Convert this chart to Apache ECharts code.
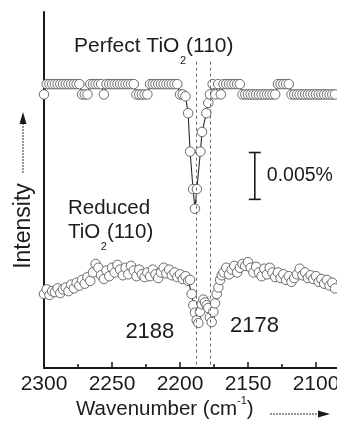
<!DOCTYPE html>
<html><head><meta charset="utf-8">
<script src="https://cdn.jsdelivr.net/npm/echarts@6/dist/echarts.min.js"></script>
<style>html,body{margin:0;padding:0;background:#fff;}#c{width:337px;height:426px;}</style>
</head><body><div id="c"></div>
<script>
// ---------------- data ----------------
const xTickLabels = [2300, 2250, 2200, 2150, 2100];
const peakPositions = [2188, 2178];

const perfectWavenumber = [
  2300,2298,2296,2294,2292,2290,2288,2286,2284,2282,2280,2278,2276,2274,2272,2270,2268,2266,2264,2262,
  2260,2258,2256,2254,2252,2250,2248,2246,2244,2242,2240,2238,2236,2234,2232,2230,2228,2226,2224,2222,
  2220,2218,2216,2214,2212,2210,2208,2206,2204,2202,2200,2198,2196,
  2194,2192.6,2190.4,2189,2187.6,2185,2183.8,2180.6,2179.2,
  2178,2176,2174,2172,2170,2168,2166,2164,2162,2160,2158,2156,2154,2152,2150,2148,2146,2144,2142,2140,
  2138,2136,2134,2132,2130,2128,2126,2124,2122,2120,2118,2116,2114,2112,2110,2108,2106,2104,2102,2100,
  2098,2096,2094,2092,2090,2088,2086
];
const perfectIntensity = [
  29.2,30.3,30.3,30.3,30.3,30.3,30.3,30.3,30.3,30.3,30.3,30.3,30.3,30.3,29.2,29.2,29.2,30.3,30.3,30.3,
  30.3,30.3,29.2,30.3,30.3,30.3,30.3,30.3,30.3,30.3,30.3,30.3,30.3,30.3,29.2,29.2,29.2,29.2,29.2,30.3,
  30.3,30.3,30.3,30.3,30.3,30.3,30.3,30.3,30.3,30.3,29.2,29.2,29.0,
  27.2,23.1,19.1,17.0,19.1,23.1,25.2,27.2,28.3,
  29.2,30.3,29.2,30.3,29.2,30.3,30.3,30.3,30.3,30.3,30.3,30.3,29.2,29.2,29.2,29.2,29.2,29.2,29.2,29.2,
  29.2,29.2,29.2,29.2,29.2,30.3,30.3,30.3,30.3,30.3,29.2,29.2,29.2,29.2,29.2,29.2,29.2,29.2,29.2,29.2,
  29.2,29.2,29.2,29.2,29.2,29.2,29.2
];

const reducedWavenumber = [
  2300,2298,2296,2294,2292,2290,2288,2286,2284,2282,2280,2278,2276,2274,2272,2270,2268,2266,2264,2262,
  2260,2258,2256,2254,2252,2250,2248,2246,2244,2242,2240,2238,2236,2234,2232,2230,2228,2226,2224,2222,
  2220,2218,2216,2214,2212,2210,2208,2206,2204,2202,2200,2198,2196,2194,
  2192.6,2191.4,2190.2,2189,2187.7,2186.5,2185.3,2184,2182.8,2181.6,2180.4,2179.2,2178,2176.7,2175.5,2174.3,2173,2171.8,2170.5,2169.3,
  2168,2166,2164,2162,2160,2158,2156,2154,2152,2150,2148,2146,2144,2142,2140,2138,2136,2134,2132,2130,
  2128,2126,2124,2122,2120,2118,2116,2114,2112,2110,2108,2106,2104,2102,2100,2098,2096,2094,2092,2090,
  2088,2086
];
const reducedIntensity = [
  7.9,8.4,7.8,8.2,8.1,8.5,8.0,8.4,8.6,8.2,8.9,8.5,9.1,8.8,9.4,9.0,9.7,9.3,10.2,11.1,
  10.7,9.9,9.5,10.4,9.8,10.7,10.2,11.0,10.5,9.9,10.7,10.0,10.9,10.4,9.8,10.5,10.0,9.7,10.2,9.8,
  10.5,10.0,9.6,10.2,10.7,10.1,10.5,9.9,10.2,9.7,10.0,9.5,9.8,9.3,
  9.4,7.9,6.7,5.9,5.1,4.8,6.0,6.8,7.3,7.0,6.7,6.4,5.4,4.9,6.0,6.9,7.9,8.6,9.4,9.9,
  10.2,10.7,10.0,10.5,10.9,10.2,10.7,11.1,10.9,11.3,10.7,10.2,10.8,10.2,9.8,10.6,10.0,10.7,10.2,9.7,
  10.2,9.6,10.0,9.4,9.8,9.2,9.6,10.0,10.6,9.9,10.2,9.6,9.9,9.5,9.8,9.2,9.5,9.0,9.4,8.8,
  9.1,8.5
];

// scale bar (0.005 % = 5 units of intensity)
const scaleBarWavenumber = 2145;
const scaleBarRange = [18, 23];
const scaleBarLabel = '0.005%';
const dashTop = 32.7;

// ---------------- chart ----------------
const FONT = '"Liberation Sans", Arial, Helvetica, sans-serif';
const TXT = '#1c1c1c';
const chart = echarts.init(document.getElementById('c'), null, {renderer: 'canvas'});

function pairs(xs, ys) { return xs.map((x, i) => [x, ys[i]]); }

const circleSeries = (name, xs, ys) => ({
  type: 'line', name, data: pairs(xs, ys), z: 3,
  symbol: 'circle', symbolSize: 9.5, showAllSymbol: true,
  itemStyle: {color: '#fff', borderColor: '#5a5a5a', borderWidth: 0.9},
  lineStyle: {color: '#2a2a2a', width: 1.1},
  emphasis: {disabled: true}, silent: true, clip: true
});

chart.setOption({
  animation: false,
  backgroundColor: '#fff',
  grid: {left: 44, right: -47, top: 12, bottom: 58, outerBoundsMode: 'none', containLabel: false},
  xAxis: {
    type: 'value', inverse: true, min: 2050, max: 2300, interval: 50,
    axisLine: {show: true, onZero: false, lineStyle: {color: '#1a1a1a', width: 2}},
    axisTick: {show: true, inside: true, length: 6, lineStyle: {color: '#1a1a1a', width: 1.5}},
    minorTick: {show: true, splitNumber: 2, length: 4, lineStyle: {color: '#1a1a1a', width: 1.5}},
    splitLine: {show: false},
    axisLabel: {
      show: true, margin: 6, color: TXT, fontSize: 21, fontFamily: FONT,
      formatter: v => xTickLabels.includes(v) ? String(v) : ''
    }
  },
  yAxis: {
    type: 'value', min: 0, max: 38,
    axisLine: {show: true, onZero: false, lineStyle: {color: '#1a1a1a', width: 2}},
    axisTick: {show: false}, axisLabel: {show: false}, splitLine: {show: false}
  },
  series: [
    {
      type: 'line', data: [], z: 1, silent: true,
      markLine: {
        silent: true, symbol: 'none', label: {show: false},
        lineStyle: {type: [3, 3], color: '#6a6a6a', width: 1},
        emphasis: {disabled: true},
        data: peakPositions.map(p => [{coord: [p, dashTop]}, {coord: [p, 0]}])
      }
    },
    circleSeries('Perfect TiO2(110)', perfectWavenumber, perfectIntensity),
    circleSeries('Reduced TiO2(110)', reducedWavenumber, reducedIntensity)
  ]
});

// ---------------- annotations ----------------
const mctx = document.createElement('canvas').getContext('2d');
function tw(t, size) { mctx.font = size + 'px ' + FONT; return mctx.measureText(t).width; }
function txt(x, y, t, size, align, extra) {
  return Object.assign({
    type: 'text', x, y, silent: true, z: 10,
    style: {text: t, fill: TXT, font: size + 'px ' + FONT,
      align: align || 'left', verticalAlign: 'middle',
      textAlign: align || 'left', textVerticalAlign: 'middle'}
  }, extra || {});
}
// runs of text with sub/superscripts; y is the vertical middle of the main text
function runs(x, y, parts) {
  const out = []; let cx = x;
  parts.forEach(p => { out.push(txt(cx + (p.dx || 0), y + (p.dy || 0), p.t, p.s)); cx += tw(p.t, p.s) + (p.dx || 0); });
  return out;
}

const px = (w, v) => chart.convertToPixel({gridIndex: 0}, [w, v]);
const els = [];

els.push(...runs(74, 46, [{t: 'Perfect TiO', s: 21}, {t: '2', s: 11, dy: 15, dx: 0.5}, {t: '(110)', s: 21}]));
els.push(txt(68, 208, 'Reduced', 20.5));
els.push(...runs(68, 232, [{t: 'TiO', s: 20.5}, {t: '2', s: 11, dy: 15, dx: 0.5}, {t: '(110)', s: 20.5}]));

// peak labels
const p1 = px(peakPositions[0], 0), p2 = px(peakPositions[1], 0);
els.push(txt(p1[0] - 22, 332, String(peakPositions[0]), 22, 'right'));
els.push(txt(p2[0] + 20, 326, String(peakPositions[1]), 22, 'left'));

// scale bar
const sb0 = px(scaleBarWavenumber, scaleBarRange[0]), sb1 = px(scaleBarWavenumber, scaleBarRange[1]);
const bs = {stroke: '#1a1a1a', lineWidth: 1.6};
els.push({type: 'line', silent: true, shape: {x1: sb0[0], y1: sb0[1], x2: sb1[0], y2: sb1[1]}, style: bs});
els.push({type: 'line', silent: true, shape: {x1: sb0[0] - 6, y1: sb0[1], x2: sb0[0] + 6, y2: sb0[1]}, style: bs});
els.push({type: 'line', silent: true, shape: {x1: sb1[0] - 6, y1: sb1[1], x2: sb1[0] + 6, y2: sb1[1]}, style: bs});
els.push(txt(sb0[0] + 12, (sb0[1] + sb1[1]) / 2, scaleBarLabel, 19.5));

// axis titles
els.push(...runs(76, 409, [{t: 'Wavenumber (cm', s: 20.5}, {t: '-1', s: 11, dy: -8}, {t: ')', s: 20.5}]));
els.push({type: 'line', silent: true, shape: {x1: 270, y1: 414, x2: 320, y2: 414}, style: {stroke: '#333', lineWidth: 1, lineDash: [2, 1]}});
els.push({type: 'polygon', silent: true, shape: {points: [[318, 410.5], [330, 414], [318, 417.5]]}, style: {fill: '#1a1a1a'}});

els.push(txt(24, 226, 'Intensity', 23, 'center', {rotation: Math.PI / 2}));
els.push({type: 'line', silent: true, shape: {x1: 23, y1: 173, x2: 23, y2: 122}, style: {stroke: '#333', lineWidth: 1, lineDash: [2, 1]}});
els.push({type: 'polygon', silent: true, shape: {points: [[19.5, 124], [23, 112], [26.5, 124]]}, style: {fill: '#1a1a1a'}});

chart.setOption({graphic: {elements: els}});
</script>
</body></html>
